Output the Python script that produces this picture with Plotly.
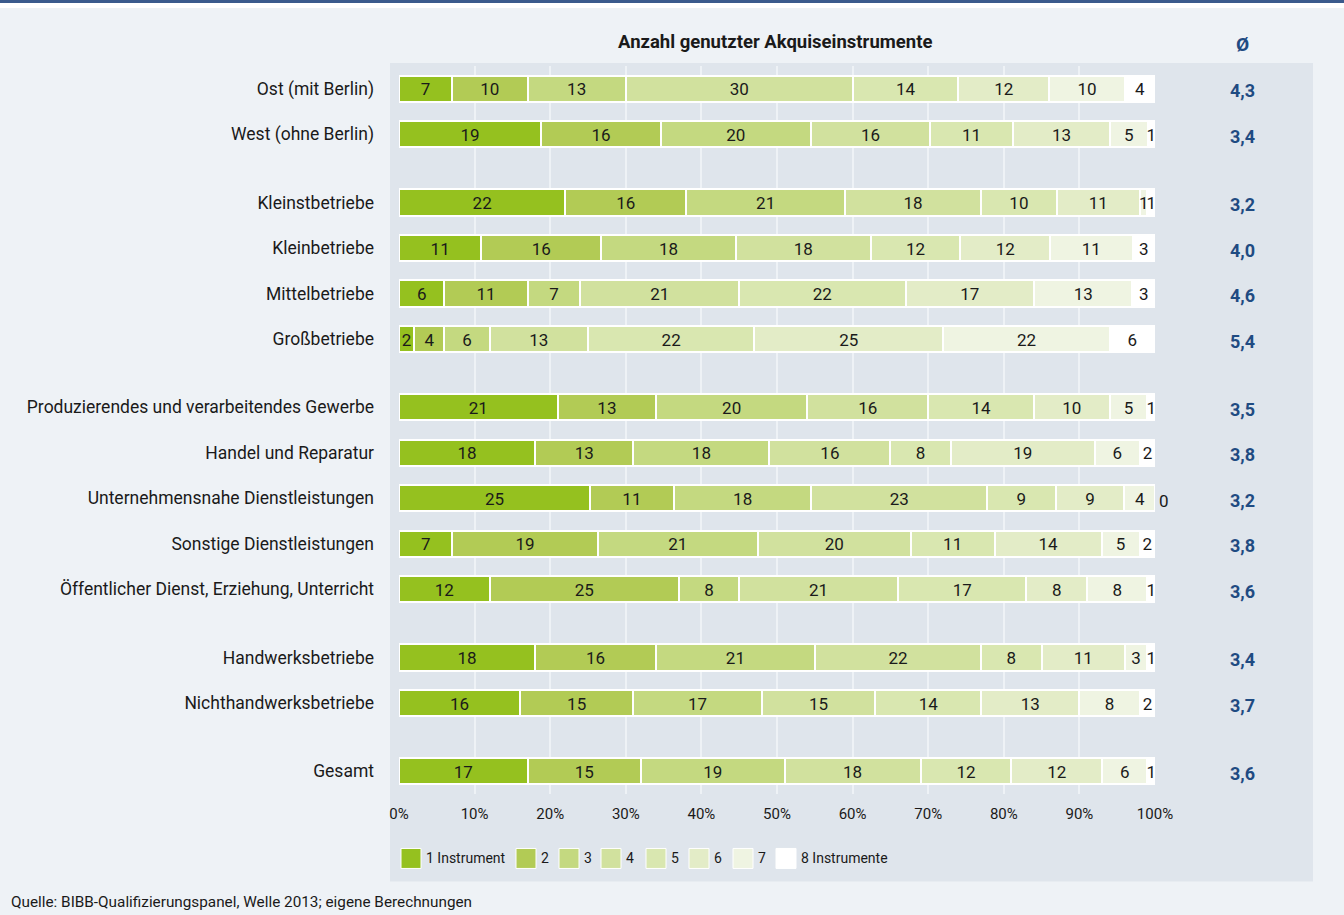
import plotly.graph_objects as go

categories = [
    "Ost (mit Berlin)", "West (ohne Berlin)",
    "Kleinstbetriebe", "Kleinbetriebe", "Mittelbetriebe", "Großbetriebe",
    "Produzierendes und verarbeitendes Gewerbe", "Handel und Reparatur",
    "Unternehmensnahe Dienstleistungen", "Sonstige Dienstleistungen",
    "Öffentlicher Dienst, Erziehung, Unterricht",
    "Handwerksbetriebe", "Nichthandwerksbetriebe",
    "Gesamt",
]
# row positions (groups separated by half-row gaps)
row_pos = [0, 1, 2.5, 3.5, 4.5, 5.5, 7, 8, 9, 10, 11, 12.5, 13.5, 15]

series_names = ["1 Instrument", "2", "3", "4", "5", "6", "7", "8 Instrumente"]
values = [
    [7, 10, 13, 30, 14, 12, 10, 4],
    [19, 16, 20, 16, 11, 13, 5, 1],
    [22, 16, 21, 18, 10, 11, 1, 1],
    [11, 16, 18, 18, 12, 12, 11, 3],
    [6, 11, 7, 21, 22, 17, 13, 3],
    [2, 4, 6, 13, 22, 25, 22, 6],
    [21, 13, 20, 16, 14, 10, 5, 1],
    [18, 13, 18, 16, 8, 19, 6, 2],
    [25, 11, 18, 23, 9, 9, 4, 0],
    [7, 19, 21, 20, 11, 14, 5, 2],
    [12, 25, 8, 21, 17, 8, 8, 1],
    [18, 16, 21, 22, 8, 11, 3, 1],
    [16, 15, 17, 15, 14, 13, 8, 2],
    [17, 15, 19, 18, 12, 12, 6, 1],
]
averages = ["4,3", "3,4", "3,2", "4,0", "4,6", "5,4", "3,5", "3,8", "3,2", "3,8", "3,6", "3,4", "3,7", "3,6"]
x_ticks = [0, 10, 20, 30, 40, 50, 60, 70, 80, 90, 100]
x_tick_labels = [f"{t}%" for t in x_ticks]

colors = ["#95c11f", "#b2cb55", "#c4d980", "#d1e19e", "#d9e7b0", "#e3ecc7", "#eff4e2", "#ffffff"]

FONT = "Roboto, Lato, sans-serif"
TXT = "#1a1a1a"
BLUE = "#1f4b82"

W, H = 1344, 915
L, R, T, B = 399, 1155, 66, 794.5
LABEL_DY = 0.05  # small downward nudge of segment labels (row units)

def px_x(p):
    return (p - L) / (R - L)

def px_y(p):
    return 1 - (p - T) / (B - T)

fig = go.Figure()
for j, name in enumerate(series_names):
    vals = [row[j] for row in values]
    fig.add_trace(go.Bar(
        y=row_pos, x=[v if v != 0 else None for v in vals], orientation="h", name=name,
        marker=dict(color=colors[j], line=dict(color="#ffffff", width=2)),
        hovertemplate=name + ": %{x:.0f}%<extra></extra>",
        showlegend=False, width=0.58,
    ))

# segment labels, centred on each (normalised) segment
lab_x, lab_y, lab_t = [], [], []
zero_rows = []
for yp, row in zip(row_pos, values):
    total = sum(row)
    cum = 0
    for j, v in enumerate(row):
        if v == 0:
            zero_rows.append((yp, v))
        else:
            lab_x.append((cum + v / 2) / total * 100)
            lab_y.append(yp + LABEL_DY)
            lab_t.append(str(v))
        cum += v
fig.add_trace(go.Scatter(
    x=lab_x, y=lab_y, text=lab_t, mode="text", textposition="middle center",
    textfont=dict(family=FONT, size=17, color=TXT), cliponaxis=False,
    hoverinfo="skip", showlegend=False,
))
for yp, v in zero_rows:
    fig.add_annotation(text=str(v), x=100, y=yp + LABEL_DY, xref="x", yref="y", showarrow=False,
                       xanchor="left", xshift=2, font=dict(size=17, color=TXT))

# legend drawn manually (swatches + labels)
legend_box_left = [401, 516, 559, 601, 646, 689, 733, 776]
for j, name in enumerate(series_names):
    bx = legend_box_left[j]
    fig.add_shape(type="rect", xref="paper", yref="paper",
                  x0=px_x(bx), x1=px_x(bx + 20), y0=px_y(869), y1=px_y(849),
                  fillcolor=colors[j], line=dict(color="#ffffff", width=1))
    fig.add_annotation(text=name, xref="paper", yref="paper", x=px_x(bx + 23), y=px_y(859),
                       showarrow=False, xanchor="left", yanchor="middle",
                       font=dict(size=14, color=TXT))

fig.update_layout(
    width=W, height=H,
    margin=dict(l=L, r=W - R, t=T, b=H - B),
    barmode="stack", barnorm="percent",
    paper_bgcolor="#eef2f6", plot_bgcolor="rgba(0,0,0,0)",
    font=dict(family=FONT, size=17, color=TXT),
    xaxis=dict(range=[0, 100], tickvals=x_ticks, ticktext=x_tick_labels,
               showgrid=True, gridcolor="#eef2f6", gridwidth=1.5, zeroline=False,
               showline=False, ticks="", tickfont=dict(size=15), ticklabelstandoff=9,
               fixedrange=True),
    yaxis=dict(range=[15.5, -0.5], tickvals=row_pos, ticktext=categories,
               showgrid=False, zeroline=False, showline=False, ticks="",
               tickfont=dict(size=17.5), ticklabelstandoff=24, fixedrange=True),
    showlegend=False,
)

# panel and top band
fig.add_shape(type="rect", xref="paper", yref="paper", x0=px_x(390), x1=px_x(1313),
              y0=px_y(882), y1=px_y(63), fillcolor="#dfe5ec", line_width=0, layer="below")
fig.add_shape(type="rect", xref="paper", yref="paper", x0=px_x(0), x1=px_x(W),
              y0=px_y(8), y1=px_y(0), fillcolor="#ffffff", line_width=0, layer="below")
fig.add_shape(type="rect", xref="paper", yref="paper", x0=px_x(0), x1=px_x(W),
              y0=px_y(3), y1=px_y(0), fillcolor="#3a5a8c", line_width=0, layer="below")

fig.add_annotation(text="<b>Anzahl genutzter Akquiseinstrumente</b>", xref="paper", yref="paper",
                   x=px_x(775), y=px_y(42), showarrow=False, font=dict(size=18.5, color=TXT),
                   xanchor="center", yanchor="middle")
fig.add_annotation(text="<b>Ø</b>", xref="paper", yref="paper", x=px_x(1242), y=px_y(44),
                   showarrow=False, font=dict(size=19, color=BLUE), xanchor="center", yanchor="middle")
for yp, a in zip(row_pos, averages):
    fig.add_annotation(text=f"<b>{a}</b>", xref="paper", yref="y", x=px_x(1242), y=yp,
                       showarrow=False, font=dict(size=18, color=BLUE), xanchor="center", yanchor="middle",
                       yshift=-2)
fig.add_annotation(text="Quelle: BIBB-Qualifizierungspanel, Welle 2013; eigene Berechnungen",
                   xref="paper", yref="paper", x=px_x(9), y=px_y(903), showarrow=False,
                   font=dict(size=15.3, color=TXT), xanchor="left", yanchor="middle")

fig.write_html("out.html")
